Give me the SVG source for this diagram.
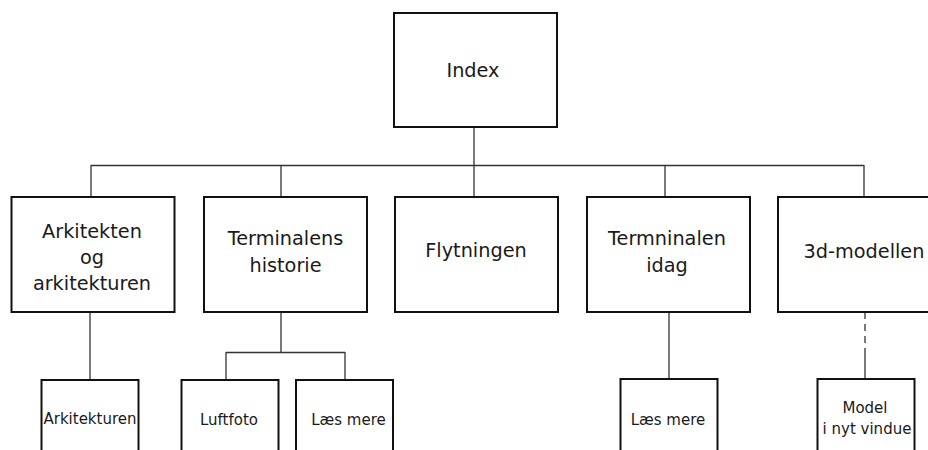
<svg xmlns="http://www.w3.org/2000/svg" width="928" height="450" viewBox="0 0 928 450">
<style>
.box{fill:#fff;stroke:#111;stroke-width:2}
.ln{fill:none;stroke:#333;stroke-width:1.3}
.t{font-family:"DejaVu Sans",Verdana,sans-serif;font-size:19.3px;fill:#1a1a1a;text-anchor:middle}
.s{font-family:"DejaVu Sans",Verdana,sans-serif;font-size:15px;fill:#1a1a1a;text-anchor:middle}
</style>
<rect width="928" height="450" fill="#fff"/>
<g id="connectors">
<path class="ln" d="M474 127V197M91 165.5H864M91 165V197M281 165V197M665 165V197M864 165V197"/>
<path class="ln" d="M90 312V380"/>
<path class="ln" d="M281 312V352.5M226 352.5H345M226 352V380M345 352V380"/>
<path class="ln" d="M669 312V379"/>
<path class="ln" d="M865 312V352" stroke-dasharray="7,5"/>
<path class="ln" d="M865 352V379"/>
</g>
<g id="index"><rect class="box" x="394" y="13" width="163" height="114"/><text class="t" x="473" y="77">Index</text></g>
<g id="arkitekten"><rect class="box" x="11.5" y="197" width="163" height="115"/><text class="t" x="92" y="238">Arkitekten</text><text class="t" x="92" y="264">og</text><text class="t" x="92" y="290">arkitekturen</text></g>
<g id="terminalens"><rect class="box" x="204" y="197" width="163" height="115"/><text class="t" x="285.5" y="245">Terminalens</text><text class="t" x="285.5" y="271.5">historie</text></g>
<g id="flytningen"><rect class="box" x="395" y="197" width="163" height="115"/><text class="t" x="476" y="256.5">Flytningen</text></g>
<g id="idag"><rect class="box" x="587" y="197" width="163" height="115"/><text class="t" x="667" y="245">Termninalen</text><text class="t" x="667" y="271.5">idag</text></g>
<g id="modellen"><rect class="box" x="778" y="197" width="163" height="115"/><text class="t" x="864" y="258">3d-modellen</text></g>
<g id="arkitekturen"><rect class="box" x="41.5" y="380" width="97" height="90"/><text class="s" x="90" y="424">Arkitekturen</text></g>
<g id="luftfoto"><rect class="box" x="181.5" y="380" width="97" height="90"/><text class="s" x="229" y="425">Luftfoto</text></g>
<g id="laes1"><rect class="box" x="296" y="380" width="97" height="90"/><text class="s" x="348.5" y="425">Læs mere</text></g>
<g id="laes2"><rect class="box" x="620.5" y="379" width="97" height="90"/><text class="s" x="668" y="425">Læs mere</text></g>
<g id="model"><rect class="box" x="817.5" y="379" width="97" height="90"/><text class="s" x="865" y="413">Model</text><text class="s" x="867" y="434">i nyt vindue</text></g>
</svg>
